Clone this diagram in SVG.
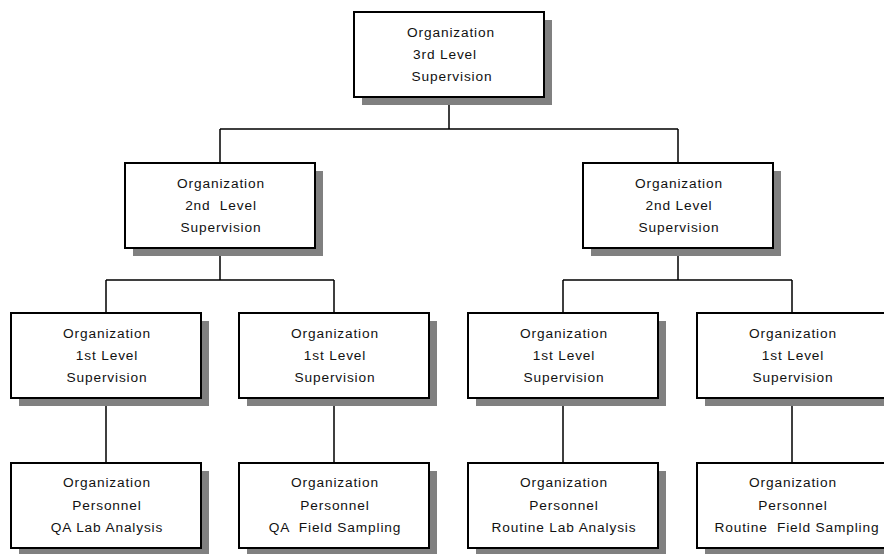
<svg xmlns="http://www.w3.org/2000/svg" width="884" height="554" viewBox="0 0 884 554">
  <style>
    .shadow { fill: #808080; }
    .box { fill: #ffffff; stroke: #000000; stroke-width: 2; }
    .link { fill: none; stroke: #000000; stroke-width: 1.5; }
    text { font-family: "Liberation Sans", Arial, sans-serif; font-size: 13.7px; letter-spacing: 0.85px; fill: #111111; text-anchor: middle; }
  </style>
  <defs>
    <g id="card">
      <rect class="shadow" x="8" y="8" width="190" height="85"/>
      <rect class="box" x="0" y="0" width="190" height="85"/>
    </g>
  </defs>

  <!-- connectors -->
  <g id="connectors">
    <path class="link" d="M449 97 V129 M220 129 H678 M220 129 V163 M678 129 V163"/>
    <path class="link" d="M220 248 V280 M106 280 H334 M106 280 V313 M334 280 V313"/>
    <path class="link" d="M678 248 V280 M563 280 H792 M563 280 V313 M792 280 V313"/>
    <path class="link" d="M106 398 V463 M334 398 V463 M563 398 V463 M792 398 V463"/>
  </g>

  <!-- level 3 -->
  <g id="sup3">
    <use href="#card" x="354" y="12"/>
    <text x="451" y="37">Organization</text>
    <text x="445" y="59">3rd Level</text>
    <text x="452" y="81">Supervision</text>
  </g>

  <!-- level 2 -->
  <g id="sup2-left">
    <use href="#card" x="125" y="163"/>
    <text x="221" y="188">Organization</text>
    <text x="221" y="210" xml:space="preserve">2nd  Level</text>
    <text x="221" y="232">Supervision</text>
  </g>
  <g id="sup2-right">
    <use href="#card" x="583" y="163"/>
    <text x="679" y="188">Organization</text>
    <text x="679" y="210">2nd Level</text>
    <text x="679" y="232">Supervision</text>
  </g>

  <!-- level 1 -->
  <g id="sup1-a">
    <use href="#card" x="11" y="313"/>
    <text x="107" y="338">Organization</text>
    <text x="107" y="360">1st Level</text>
    <text x="107" y="382">Supervision</text>
  </g>
  <g id="sup1-b">
    <use href="#card" x="239" y="313"/>
    <text x="335" y="338">Organization</text>
    <text x="335" y="360">1st Level</text>
    <text x="335" y="382">Supervision</text>
  </g>
  <g id="sup1-c">
    <use href="#card" x="468" y="313"/>
    <text x="564" y="338">Organization</text>
    <text x="564" y="360">1st Level</text>
    <text x="564" y="382">Supervision</text>
  </g>
  <g id="sup1-d">
    <use href="#card" x="697" y="313"/>
    <text x="793" y="338">Organization</text>
    <text x="793" y="360">1st Level</text>
    <text x="793" y="382">Supervision</text>
  </g>

  <!-- personnel -->
  <g id="staff-a">
    <use href="#card" x="11" y="463"/>
    <text x="107" y="487">Organization</text>
    <text x="107" y="510">Personnel</text>
    <text x="107" y="532">QA Lab Analysis</text>
  </g>
  <g id="staff-b">
    <use href="#card" x="239" y="463"/>
    <text x="335" y="487">Organization</text>
    <text x="335" y="510">Personnel</text>
    <text x="335" y="532" xml:space="preserve">QA  Field Sampling</text>
  </g>
  <g id="staff-c">
    <use href="#card" x="468" y="463"/>
    <text x="564" y="487">Organization</text>
    <text x="564" y="510">Personnel</text>
    <text x="564" y="532">Routine Lab Analysis</text>
  </g>
  <g id="staff-d">
    <use href="#card" x="697" y="463"/>
    <text x="793" y="487">Organization</text>
    <text x="793" y="510">Personnel</text>
    <text x="797" y="532" xml:space="preserve">Routine  Field Sampling</text>
  </g>
</svg>
